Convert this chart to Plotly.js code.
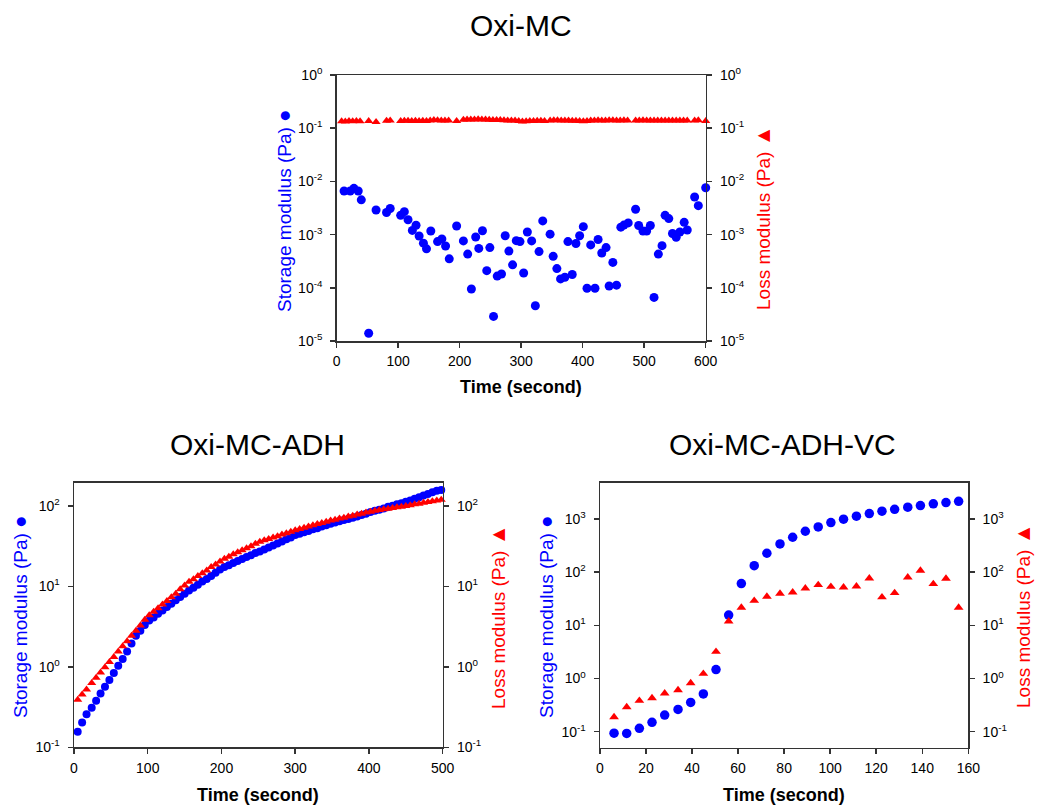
<!DOCTYPE html>
<html>
<head>
<meta charset="utf-8">
<script src="https://cdn.plot.ly/plotly-3.0.1.min.js"></script>
<style>html,body{margin:0;padding:0;background:#fff;}#chart{width:1037px;height:807px;}</style>
</head>
<body>
<div id="chart"></div>
<script>
// ---------- Oxi-MC ----------
const mcStorageTime = [12,22,28,35,40,52,64,81,87,104,110,116,123,129,134,141,146,153,164,171,177,183,195,206,213,219,226,231,237,244,249,255,261,268,274,280,286,292,298,304,310,317,323,329,335,347,352,358,364,371,376,383,389,395,401,407,413,420,425,431,438,443,449,455,462,467,474,486,491,498,504,510,516,523,529,534,540,546,552,558,565,570,582,588,600];
const mcStorage = [0.0066,0.0066,0.0074,0.0066,0.0045,0.000014,0.0029,0.0026,0.0031,0.0023,0.0027,0.0019,0.0012,0.0015,0.00094,0.00069,0.00054,0.00117,0.00074,0.00083,0.00061,0.00035,0.00145,0.00076,0.00043,0.000095,0.0009,0.00055,0.00118,0.00021,0.00057,0.000029,0.000166,0.000182,0.00095,0.00049,0.00027,0.00077,0.00074,0.00019,0.00112,0.00076,0.000046,0.00048,0.00181,0.00102,0.00039,0.00023,0.000147,0.000158,0.00074,0.000178,0.00068,0.00095,0.00141,0.000098,0.00064,0.000098,0.00081,0.00045,0.00057,0.000108,0.0003,0.000112,0.00138,0.00151,0.00166,0.003,0.00148,0.00117,0.00117,0.00148,0.000066,0.00043,0.00062,0.0023,0.002,0.00105,0.00089,0.00112,0.0017,0.00122,0.0051,0.0035,0.0076];
const mcLossTime = [8,14,20,26,32,38,52,64,81,87,104,110,116,122,128,134,140,146,152,158,164,170,176,182,195,206,212,218,224,230,236,242,248,254,260,266,272,278,284,290,296,302,308,314,320,326,332,338,347,353,359,365,371,377,383,389,395,401,407,413,419,425,431,437,443,449,455,461,467,473,486,492,498,504,510,516,522,528,534,540,546,552,558,564,570,582,588,600];
const mcLoss = [0.135,0.133,0.136,0.135,0.137,0.135,0.137,0.131,0.138,0.139,0.137,0.138,0.138,0.137,0.138,0.137,0.138,0.137,0.140,0.143,0.141,0.140,0.140,0.139,0.137,0.144,0.146,0.145,0.146,0.147,0.146,0.145,0.144,0.143,0.142,0.142,0.141,0.140,0.139,0.139,0.137,0.134,0.135,0.136,0.137,0.138,0.138,0.137,0.140,0.141,0.141,0.140,0.139,0.139,0.138,0.138,0.137,0.135,0.137,0.139,0.140,0.141,0.140,0.140,0.141,0.141,0.140,0.140,0.141,0.140,0.139,0.140,0.141,0.140,0.140,0.139,0.139,0.140,0.140,0.140,0.139,0.139,0.140,0.140,0.139,0.140,0.141,0.136];

// ---------- Oxi-MC-ADH ----------
const adhTime = [5,11,17,24,30,36,42,48,54,60,66,72,78,84,90,96,102,108,114,120,126,132,138,144,150,156,162,168,174,180,186,192,198,204,210,216,222,228,234,240,246,252,258,264,270,276,282,288,294,300,306,312,318,324,330,336,342,348,354,360,366,372,378,384,390,396,402,408,414,420,426,432,438,444,450,456,462,468,474,480,486,492,498];
const adhStorage = [0.156,0.204,0.257,0.311,0.38,0.465,0.568,0.687,0.84,1.03,1.25,1.55,1.95,2.44,2.82,3.31,3.76,4.12,4.57,5.01,5.56,6.10,6.76,7.41,8.13,8.91,9.66,10.5,11.5,12.4,13.5,14.8,16.2,17.4,18.4,19.5,20.7,21.9,23.2,24.5,26.0,27.2,28.8,30.5,32.4,34.3,36.3,38.5,40.7,43.7,45.2,47.3,49.0,51.3,53.1,55.6,57.5,60.3,62.4,64.6,66.8,69.2,71.6,74.1,77.6,80.4,84.1,87.1,90.2,93.3,97.7,101,105,108,113,117,123,129,135,141,148,155,158];
const adhLoss = [0.389,0.452,0.525,0.631,0.733,0.851,0.989,1.15,1.33,1.55,1.80,2.09,2.43,2.82,3.27,3.85,4.37,4.84,5.37,5.96,6.61,7.33,8.1,9.2,10.3,11.4,12.3,13.5,14.6,15.8,17.4,18.8,20.4,22.1,23.4,25.1,26.6,28.2,29.9,31.6,33.9,35.9,37.6,38.9,40.7,42.2,44.2,45.7,47.9,50.1,51.9,53.7,55.6,57.5,59.6,61.7,63.8,66.1,67.6,70.0,71.6,74.1,75.9,78.5,80.4,83.2,85.1,87.1,89.1,91.2,92.3,94.4,96.6,97.7,100,102,105,107,110,112,115,117,120];

// ---------- Oxi-MC-ADH-VC ----------
const vcTime = [6.1,11.6,17.1,22.6,28.1,33.9,39.4,44.9,50.4,55.9,61.4,67.0,72.5,78.2,83.7,89.2,94.8,100.3,105.8,111.4,117,122.5,128,133.7,139.2,144.8,150.3,155.8];
const vcStorage = [0.094,0.093,0.116,0.150,0.206,0.263,0.356,0.513,1.47,15.6,60.8,132,226,339,452,586,707,853,986,1122,1259,1393,1514,1660,1778,1915,2027,2140];
const vcLoss = [0.189,0.291,0.383,0.43,0.526,0.608,0.822,1.23,3.2,11.9,21.5,29.1,34.6,39.4,41.7,49.6,57.4,53.3,51.9,54.2,76.6,33.7,40.6,80,107,59.8,75.5,21.5];

// ---------- tick labels ----------
const mcTickVals = [1e-5,1e-4,1e-3,1e-2,1e-1,1];
const mcTickText = ['10<sup>-5</sup>','10<sup>-4</sup>','10<sup>-3</sup>','10<sup>-2</sup>','10<sup>-1</sup>','10<sup>0</sup>'];
const adhTickVals = [0.1,1,10,100];
const adhTickText = ['10<sup>-1</sup>','10<sup>0</sup>','10<sup>1</sup>','10<sup>2</sup>'];
const vcTickVals = [0.1,1,10,100,1000];
const vcTickText = ['10<sup>-1</sup>','10<sup>0</sup>','10<sup>1</sup>','10<sup>2</sup>','10<sup>3</sup>'];

const titles = ['Oxi-MC','Oxi-MC-ADH','Oxi-MC-ADH-VC'];
const xTitle = 'Time (second)';
const storageLabel = 'Storage modulus (Pa) <span style="font-size:21px">●</span>';
const lossLabel = 'Loss modulus (Pa) <span style="font-size:21px">▲</span>';

const BLUE = 'rgb(0,0,255)', RED = 'rgb(255,0,0)';
const FONT = 'Liberation Sans, Arial, sans-serif';
const W = 1037, H = 807;
const px = v => v / W, py = v => 1 - v / H;

function circ(x, y, xa, ya, size) {
  return {x, y, xaxis: xa, yaxis: ya, type: 'scatter', mode: 'markers', cliponaxis: false,
    marker: {symbol: 'circle', size: size, color: BLUE}, hoverinfo: 'x+y'};
}
function tri(x, y, xa, ya, size) {
  return {x, y, xaxis: xa, yaxis: ya, type: 'scatter', mode: 'markers', cliponaxis: false,
    marker: {symbol: 'triangle-up', size: size, color: RED}, hoverinfo: 'x+y'};
}

const data = [
  circ(mcStorageTime, mcStorage, 'x', 'y', 9),
  tri(mcLossTime, mcLoss, 'x', 'y2', 8),
  circ(adhTime, adhStorage, 'x2', 'y3', 8),
  tri(adhTime, adhLoss, 'x2', 'y4', 8),
  circ(vcTime, vcStorage, 'x3', 'y5', 9.5),
  tri(vcTime, vcLoss, 'x3', 'y6', 8.5)
];

const lineC = '#333';
function xAx(domain, anchor, range, dtick) {
  return {domain, anchor, range, dtick, tick0: 0, ticks: 'outside', ticklen: 5, tickwidth: 1.5, tickcolor: lineC,
    showline: true, linecolor: lineC, linewidth: 1.5, mirror: true, showgrid: false, zeroline: false,
    automargin: false, ticklabelstandoff: 2, tickfont: {size: 14, color: '#000', family: FONT}};
}
function yAx(domain, anchor, range, vals, text, side, overlay) {
  const a = {domain, anchor, type: 'log', range, tickmode: 'array', tickvals: vals, ticktext: text,
    ticks: 'outside', ticklen: 5, tickwidth: 1.5, tickcolor: lineC, side, ticklabelstandoff: 5,
    showline: true, linecolor: lineC, linewidth: 1.5, showgrid: false, zeroline: false,
    automargin: false, tickfont: {size: 14, color: '#000', family: FONT}};
  if (overlay) a.overlaying = overlay;
  return a;
}

const dTop = [px(336.7), px(705.7)], yTop = [py(341), py(75)];
const dBL = [px(74), px(442.7)], yBL = [py(747.3), py(482.7)];
const dBR = [px(600), px(968.3)], yBR = [py(747.7), py(482.7)];

const ann = [];
function A(text, x, y, size, color, angle, bold) {
  ann.push({text: bold ? '<b>' + text + '</b>' : text, x: px(x), y: py(y), xref: 'paper', yref: 'paper',
    xanchor: 'center', yanchor: 'middle', showarrow: false, textangle: angle || 0,
    font: {size, color, family: FONT}});
}
A(titles[0], 521, 25, 30, '#000');
A(titles[1], 257, 444, 30, '#000');
A(titles[2], 782, 444, 30, '#000');
A(xTitle, 521, 387, 18, '#000', 0, true);
A(xTitle, 258, 795, 18, '#000', 0, true);
A(xTitle, 784, 795, 18, '#000', 0, true);
A(storageLabel, 283, 211, 19, BLUE, -90);
A(lossLabel, 762, 218, 19, RED, -90);
A(storageLabel, 19, 617, 19, BLUE, -90);
A(lossLabel, 497, 617, 19, RED, -90);
A(storageLabel, 545, 617, 19, BLUE, -90);
A(lossLabel, 1022, 616, 19, RED, -90);

const layout = {
  width: W, height: H, margin: {l: 0, r: 0, t: 0, b: 0}, paper_bgcolor: '#fff', plot_bgcolor: '#fff',
  showlegend: false, font: {family: FONT, color: '#000'},
  xaxis: xAx(dTop, 'y', [0, 600], 100),
  yaxis: yAx(yTop, 'x', [-5, 0], mcTickVals, mcTickText, 'left'),
  yaxis2: yAx(yTop, 'x', [-5, 0], mcTickVals, mcTickText, 'right', 'y'),
  xaxis2: xAx(dBL, 'y3', [0, 500], 100),
  yaxis3: yAx(yBL, 'x2', [-1, 2.29], adhTickVals, adhTickText, 'left'),
  yaxis4: yAx(yBL, 'x2', [-1, 2.29], adhTickVals, adhTickText, 'right', 'y3'),
  xaxis3: xAx(dBR, 'y5', [0, 160], 20),
  yaxis5: yAx(yBR, 'x3', [-1.30, 3.68], vcTickVals, vcTickText, 'left'),
  yaxis6: yAx(yBR, 'x3', [-1.30, 3.68], vcTickVals, vcTickText, 'right', 'y5'),
  annotations: ann
};

Plotly.newPlot('chart', data, layout, {displayModeBar: false, staticPlot: true});
</script>
</body>
</html>
